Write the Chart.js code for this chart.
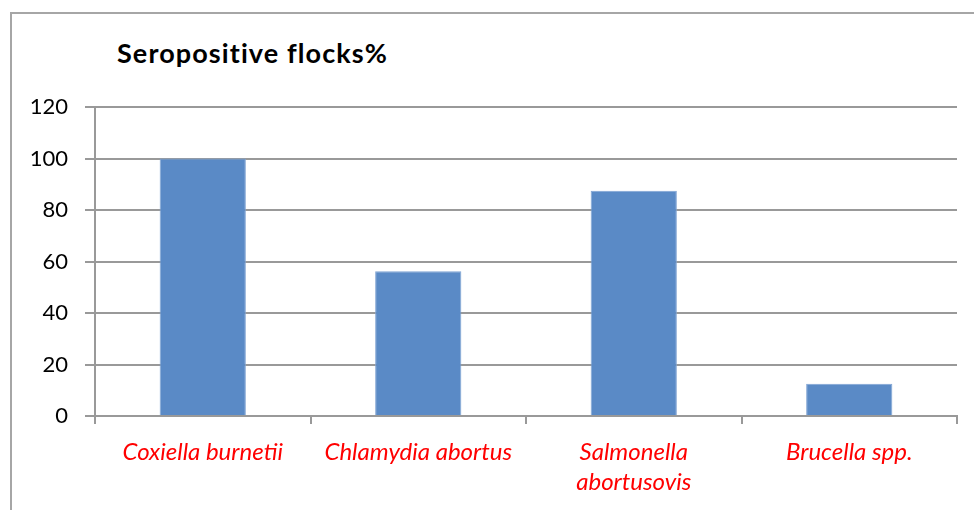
<!DOCTYPE html>
<html>
<head>
<meta charset="utf-8">
<script src="https://cdn.jsdelivr.net/npm/chart.js@4"></script>
<style>
    body { margin: 0; background: #fff; }
    #wrap { position: relative; width: 974px; height: 510px; overflow: hidden; }
    #frame { position: absolute; left: 10px; top: 12px; width: 980px; height: 520px;
             border-left: 2px solid #a6a6a6; border-top: 2px solid #a6a6a6; }
    #titel { position: absolute; left: 117px; top: 37px; font: bold 27px Lato, sans-serif;
             line-height: 32px; letter-spacing: 1.1px; font-variant-ligatures: none; color: #000; }
    canvas { position: absolute; left: 0; top: 0; }
</style>
</head>
<body>
<div id="wrap">
    <div id="frame"></div>
    <div id="titel">Seropositive flocks%</div>
    <canvas id="seroDiagramm" width="974" height="510"></canvas>
</div>
<script>
// Daten
var kategorien = ["Coxiella burnetii", "Chlamydia abortus", ["Salmonella", "abortusovis"], "Brucella spp."];
var werte = [100, 56.25, 87.5, 12.5];
var yTicks = [0, 20, 40, 60, 80, 100, 120];

var canvas = document.getElementById('seroDiagramm');
var myChart = new Chart(canvas, {
    type: 'bar',
    data: {
        labels: kategorien,
        datasets: [{
            label: "Seropositive flocks%",
            data: werte,
            backgroundColor: '#5a8ac6',
            borderColor: '#7fa3d3',
            borderWidth: 1,
            barPercentage: 0.4,
            categoryPercentage: 1
        }]
    },
    options: {
        responsive: false,
        devicePixelRatio: 1,
        animation: false,
        layout: {
            padding: { top: 107, right: 17, bottom: 0, left: 0 }
        },
        plugins: {
            legend: { display: false },
            title: { display: false },
            tooltip: { enabled: false }
        },
        scales: {
            x: {
                grid: {
                    offset: true,
                    drawOnChartArea: false,
                    drawTicks: true,
                    tickLength: 8,
                    color: '#999999',
                    lineWidth: 2
                },
                border: { color: '#999999', width: 2 },
                ticks: {
                    color: '#ff0000',
                    padding: 13,
                    maxRotation: 0,
                    autoSkip: false,
                    font: { family: 'Lato', style: 'italic', size: 24, lineHeight: 1.25 }
                },
                afterFit: function (scale) { scale.height = 94; }
            },
            y: {
                min: 0,
                max: 120,
                afterBuildTicks: function (scale) {
                    scale.ticks = yTicks.map(v => ({ value: v }));
                },
                grid: {
                    color: '#999999',
                    lineWidth: 2,
                    tickLength: 10
                },
                border: { color: '#999999', width: 2 },
                ticks: {
                    color: '#000000',
                    padding: 17,
                    font: { family: 'Lato', size: 22 }
                },
                afterFit: function (scale) { scale.width = 95; }
            }
        }
    }
});
</script>
</body>
</html>
